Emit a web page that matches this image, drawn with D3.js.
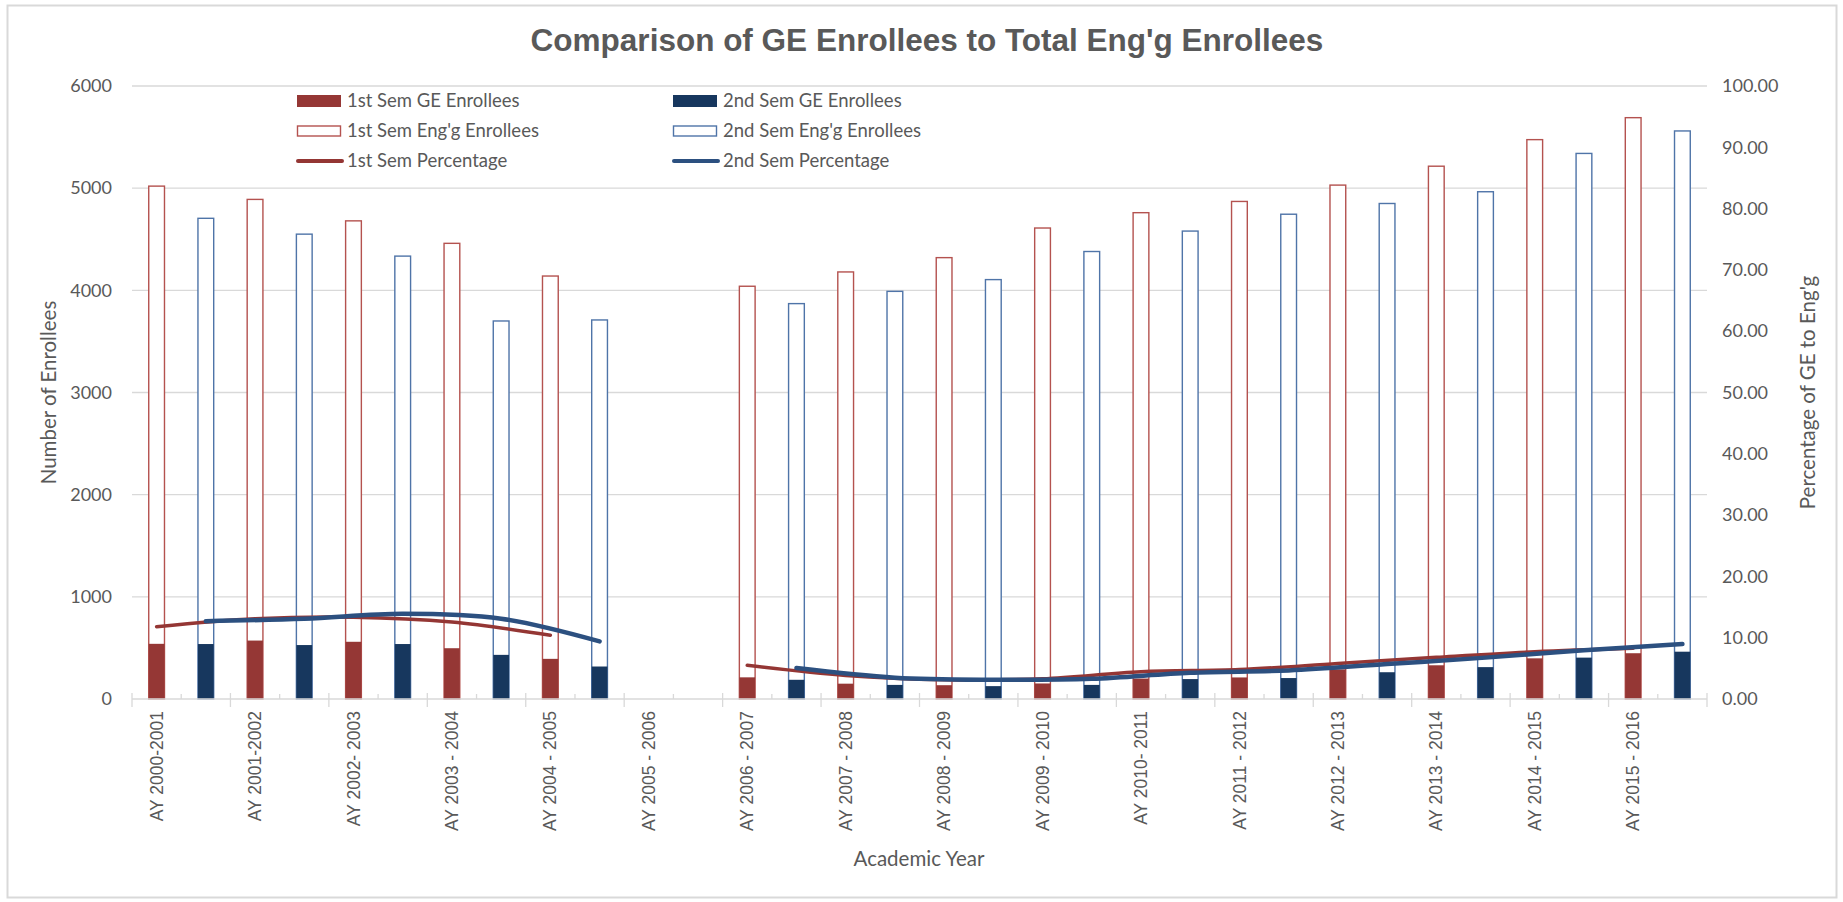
<!DOCTYPE html>
<html>
<head>
<meta charset="utf-8">
<script src="https://cdn.jsdelivr.net/npm/d3@7"></script>
<style>
  body { margin: 0; background: #fff; }
  svg text { fill: #595959; }
</style>
</head>
<body>
<div class="container"></div>
<script>
// academic years, two semesters each (AY 2005-2006 has no data)
var years = ["AY 2000-2001", "AY 2001-2002", "AY 2002- 2003", "AY 2003 - 2004", "AY 2004 - 2005",
  "AY 2005 - 2006", "AY 2006 - 2007", "AY 2007 - 2008", "AY 2008 - 2009", "AY 2009 - 2010",
  "AY 2010- 2011", "AY 2011 - 2012", "AY 2012 - 2013", "AY 2013 - 2014", "AY 2014 - 2015", "AY 2015 - 2016"];
var firstEng  = [5020, 4890, 4680, 4460, 4140, null, 4040, 4180, 4320, 4610, 4760, 4870, 5030, 5215, 5475, 5690];
var secondEng = [4705, 4550, 4335, 3700, 3710, null, 3870, 3990, 4105, 4380, 4580, 4745, 4850, 4965, 5340, 5560];
var firstGE   = [540, 572, 560, 497, 393, null, 212, 150, 135, 152, 200, 211, 290, 330, 398, 448];
var secondGE  = [538, 528, 538, 432, 318, null, 188, 138, 126, 138, 195, 205, 262, 312, 405, 463];
var firstPct  = [11.8, 13.1, 13.35, 12.55, 10.4, null, 5.5, 3.85, 3.15, 3.3, 4.45, 4.8, 5.8, 6.8, 7.7, 8.27];
var secondPct = [12.7, 13.1, 13.9, 13.1, 9.4, null, 5.05, 3.48, 3.15, 3.3, 4.28, 4.65, 5.7, 6.75, 7.95, 8.97];
var leftTicks = [0, 1000, 2000, 3000, 4000, 5000, 6000];
var rightTicks = [0, 10, 20, 30, 40, 50, 60, 70, 80, 90, 100];

var W = 1843, H = 902;
var plot = {left: 132, right: 1707, top: 86, bottom: 699};
var colors = {
  red: '#953735', navy: '#17375e',
  redOutline: '#b4524f', blueOutline: '#4f74a8',
  redLine: '#943634', blueLine: '#2c5080'
};

// one slot per semester
var slots = [];
years.forEach(function(y, i){
  slots.push({key: i*2, sem: 1, eng: firstEng[i], ge: firstGE[i], pct: firstPct[i]});
  slots.push({key: i*2+1, sem: 2, eng: secondEng[i], ge: secondGE[i], pct: secondPct[i]});
});

var svg = d3.select('.container').append('svg')
  .attr('width', W).attr('height', H);

// chart border
svg.append('rect')
  .attr('x', 7.5).attr('y', 5.5).attr('width', W - 14).attr('height', H - 10)
  .attr('fill', 'none').attr('stroke', '#d9d9d9').attr('stroke-width', 2);

var x = d3.scaleBand().domain(slots.map(function(d){return d.key;}))
  .range([plot.left, plot.right]).paddingInner(0).paddingOuter(0);
var xb = d3.scaleLinear().domain([0, slots.length]).range([plot.left, plot.right]);
var yL = d3.scaleLinear().domain([0, 6000]).range([plot.bottom, plot.top]);
var yR = d3.scaleLinear().domain([0, 100]).range([plot.bottom, plot.top]);
var barW = x.bandwidth() * 0.32;

// gridlines
svg.append('g').selectAll('line').data(leftTicks.slice(1)).enter().append('line')
  .attr('x1', plot.left).attr('x2', plot.right)
  .attr('y1', function(d){return yL(d);}).attr('y2', function(d){return yL(d);})
  .attr('stroke', '#d9d9d9').attr('stroke-width', 1.3);

// left axis
var gl = svg.append('g').attr('transform', 'translate(' + plot.left + ',0)')
  .call(d3.axisLeft(yL).tickValues(leftTicks).tickSize(0).tickPadding(20).tickFormat(d3.format('d')));
gl.select('.domain').remove();
gl.selectAll('text').style('font-family', 'Lato, sans-serif').style('font-size', '18px');

// right axis
var gr = svg.append('g').attr('transform', 'translate(' + plot.right + ',0)')
  .call(d3.axisRight(yR).tickValues(rightTicks).tickSize(0).tickPadding(15)
    .tickFormat(d3.format('.2f')));
gr.select('.domain').remove();
gr.selectAll('text').style('font-family', 'Lato, sans-serif').style('font-size', '18px');

// engineering enrollees (hollow)
var barSlots = slots.filter(function(d){return d.eng != null;});
svg.append('g').selectAll('rect').data(barSlots).enter().append('rect')
  .attr('x', function(d){return x(d.key) + (x.bandwidth() - barW)/2;})
  .attr('y', function(d){return yL(d.eng);})
  .attr('width', barW)
  .attr('height', function(d){return yL(0) - yL(d.eng);})
  .attr('fill', '#fff')
  .attr('stroke', function(d){return d.sem == 1 ? colors.redOutline : colors.blueOutline;})
  .attr('stroke-width', 1.4);

// GE enrollees (filled)
svg.append('g').selectAll('rect').data(barSlots).enter().append('rect')
  .attr('x', function(d){return x(d.key) + (x.bandwidth() - barW)/2;})
  .attr('y', function(d){return yL(d.ge);})
  .attr('width', barW)
  .attr('height', function(d){return yL(0) - yL(d.ge);})
  .attr('fill', function(d){return d.sem == 1 ? colors.red : colors.navy;});

// x axis line and ticks
var ga = svg.append('g');
ga.append('line').attr('x1', plot.left).attr('x2', plot.right)
  .attr('y1', plot.bottom).attr('y2', plot.bottom)
  .attr('stroke', '#d9d9d9').attr('stroke-width', 1.3);
ga.selectAll('.tk').data(d3.range(0, slots.length + 1)).enter().append('line')
  .attr('x1', function(d){return xb(d);}).attr('x2', function(d){return xb(d);})
  .attr('y1', function(d){return d % 2 == 0 ? plot.bottom - 6 : plot.bottom - 5;})
  .attr('y2', function(d){return d % 2 == 0 ? plot.bottom + 8 : plot.bottom;})
  .attr('stroke', '#d9d9d9').attr('stroke-width', 1.3);

// year labels, under the 1st sem slot
var gx = svg.append('g').attr('transform', 'translate(0,' + plot.bottom + ')')
  .call(d3.axisBottom(x).tickValues(slots.filter(function(d){return d.sem == 1;}).map(function(d){return d.key;}))
    .tickSize(0).tickFormat(function(k){return years[k/2];}));
gx.select('.domain').remove();
gx.selectAll('text')
  .attr('transform', 'rotate(-90)')
  .attr('x', -12).attr('y', 0).attr('dy', '0.35em')
  .style('text-anchor', 'end')
  .style('font-family', '"Liberation Sans", Arial, sans-serif').style('font-size', '17.5px');

// percentage lines
var line = d3.line()
  .defined(function(d){return d.pct != null;})
  .x(function(d){return x(d.key) + x.bandwidth()/2;})
  .y(function(d){return yR(d.pct);})
  .curve(d3.curveCatmullRom.alpha(0));
svg.append('path').datum(slots.filter(function(d){return d.sem == 1;}))
  .attr('d', line).attr('fill', 'none').attr('stroke', colors.redLine)
  .attr('stroke-width', 3.5).attr('stroke-linecap', 'round');
svg.append('path').datum(slots.filter(function(d){return d.sem == 2;}))
  .attr('d', line).attr('fill', 'none').attr('stroke', colors.blueLine)
  .attr('stroke-width', 4.5).attr('stroke-linecap', 'round');

// title and axis titles
svg.append('text').attr('x', 927).attr('y', 51).attr('text-anchor', 'middle')
  .style('font-family', '"Liberation Sans", Arial, sans-serif').style('font-size', '31.5px')
  .style('font-weight', 'bold').text("Comparison of GE Enrollees to Total Eng'g Enrollees");
svg.append('text').attr('transform', 'translate(56,' + (plot.top + plot.bottom)/2 + ') rotate(-90)')
  .attr('text-anchor', 'middle')
  .style('font-family', 'Lato, sans-serif').style('font-size', '20.5px')
  .text('Number of Enrollees');
svg.append('text').attr('transform', 'translate(1815,' + (plot.top + plot.bottom)/2 + ') rotate(-90)')
  .attr('text-anchor', 'middle')
  .style('font-family', 'Lato, sans-serif').style('font-size', '20.5px')
  .text("Percentage of GE to Eng'g");
svg.append('text').attr('x', 919).attr('y', 866).attr('text-anchor', 'middle')
  .style('font-family', 'Lato, sans-serif').style('font-size', '20.5px')
  .text('Academic Year');

// legend
var legendItems = [
  {label: '1st Sem GE Enrollees', kind: 'fill', color: colors.red, col: 0, row: 0},
  {label: '2nd Sem GE Enrollees', kind: 'fill', color: colors.navy, col: 1, row: 0},
  {label: "1st Sem Eng'g Enrollees", kind: 'hollow', color: colors.redOutline, col: 0, row: 1},
  {label: "2nd Sem Eng'g Enrollees", kind: 'hollow', color: colors.blueOutline, col: 1, row: 1},
  {label: '1st Sem Percentage', kind: 'line', color: colors.redLine, col: 0, row: 2},
  {label: '2nd Sem Percentage', kind: 'line', color: colors.blueLine, col: 1, row: 2}
];
var colX = [297, 673];
var lg = svg.append('g').selectAll('g').data(legendItems).enter().append('g')
  .attr('transform', function(d){return 'translate(' + colX[d.col] + ',' + (101 + d.row*30) + ')';});
lg.filter(function(d){return d.kind == 'fill';}).append('rect')
  .attr('x', 0).attr('y', -6).attr('width', 44).attr('height', 12)
  .attr('fill', function(d){return d.color;});
lg.filter(function(d){return d.kind == 'hollow';}).append('rect')
  .attr('x', 0.5).attr('y', -5).attr('width', 43).attr('height', 10)
  .attr('fill', '#fff').attr('stroke', function(d){return d.color;}).attr('stroke-width', 1.4);
lg.filter(function(d){return d.kind == 'line';}).append('line')
  .attr('x1', 1).attr('x2', 45).attr('y1', 0).attr('y2', 0)
  .attr('stroke', function(d){return d.color;}).attr('stroke-width', 4).attr('stroke-linecap', 'round');
lg.append('text').attr('x', 50).attr('y', 0).attr('dy', '0.35em')
  .style('font-family', 'Lato, sans-serif').style('font-size', '18.5px')
  .text(function(d){return d.label;});
</script>
</body>
</html>
